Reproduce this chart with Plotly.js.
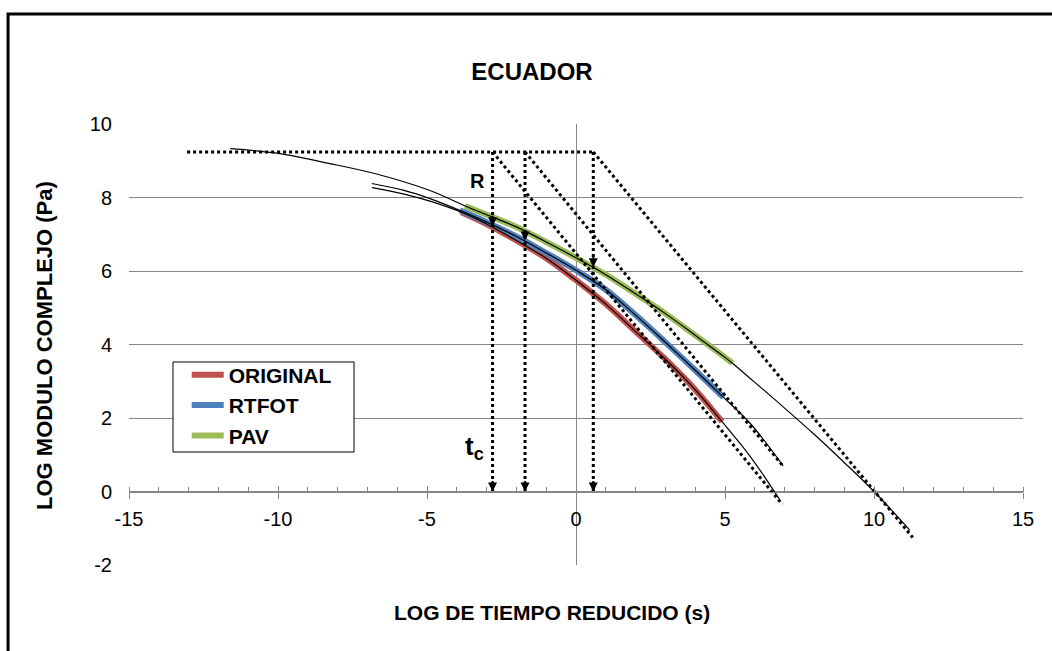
<!DOCTYPE html>
<html>
<head>
<meta charset="utf-8">
<script src="https://cdn.plot.ly/plotly-3.0.1.min.js"></script>
<style>
  html, body { margin: 0; padding: 0; background: #fff; }
  #chart { width: 1052px; height: 651px; }
</style>
</head>
<body>
<div id="chart"></div>
<script>
// Curvas maestras del ligante: log del tiempo reducido (s) vs log del módulo complejo (Pa)
const seriesNames = ['ORIGINAL', 'RTFOT', 'PAV'];
const seriesColors = ['#C0504D', '#4F81BD', '#9BBB59'];

// Datos medidos (tramo coloreado)
const logT_original = [-3.85, -3, -2, -1, 0, 1, 2, 3, 4, 4.9];
const logG_original = [7.6, 7.28, 6.83, 6.35, 5.75, 5.1, 4.35, 3.6, 2.77, 1.9];
const logT_rtfot = [-3.9, -3, -2, -1, 0, 1, 2, 3, 4, 4.95];
const logG_rtfot = [7.65, 7.33, 6.94, 6.49, 6.02, 5.49, 4.8, 4.06, 3.3, 2.56];
const logT_pav = [-3.72, -3, -2, -1, 0, 1, 2, 3, 4, 5, 5.25];
const logG_pav = [7.77, 7.53, 7.2, 6.79, 6.36, 5.9, 5.38, 4.84, 4.25, 3.65, 3.49];

// Modelo ajustado: prolongación antes y después de los datos
const fitHeadT_original = [-6.85, -5.8, -4.9, -3.85];
const fitHeadG_original = [8.27, 8.1, 7.9, 7.6];
const fitTailT_original = [4.9, 5.85, 6.85];
const fitTailG_original = [1.9, 0.95, -0.24];

const fitHeadT_rtfot = [-6.85, -5.8, -4.9, -3.9];
const fitHeadG_rtfot = [8.38, 8.2, 7.97, 7.65];
const fitTailT_rtfot = [4.95, 5.85, 6.95];
const fitTailG_rtfot = [2.56, 1.85, 0.7];

const fitHeadT_pav = [-11.6, -10, -8.3, -6.6, -4.9, -3.72];
const fitHeadG_pav = [9.33, 9.2, 8.93, 8.62, 8.19, 7.77];
const fitTailT_pav = [5.25, 6, 7, 8, 9, 10, 11.2];
const fitTailG_pav = [3.49, 2.97, 2.27, 1.55, 0.79, 0.0, -1.05];

// Construcción gráfica: módulo vítreo, tiempo de cruce tc y asíntota viscosa
const logGlassy = 9.24;
const glassyStartT = -13.05;
const logTc = [-2.8, -1.71, 0.58];
const logGc = [7.22, 6.83, 6.1];
const asymEndT = [6.92, 6.98, 11.3];
const asymEndG = [-0.35, 0.66, -1.25];

// Ejes
const xTicks = [-15, -10, -5, 0, 5, 10, 15];
const xTickLabels = ['-15', '-10', '-5', '0', '5', '10', '15'];
const yTicks = [-2, 0, 2, 4, 6, 8, 10];
const yTickLabels = ['-2', '0', '2', '4', '6', '8', '10'];

const FONT = 'Liberation Sans, Arial, Helvetica, sans-serif';
const GRID = '#868686';

const measured = [
  [logT_original, logG_original],
  [logT_rtfot, logG_rtfot],
  [logT_pav, logG_pav]
];
const fitted = [
  [fitHeadT_original, fitHeadG_original, fitTailT_original, fitTailG_original],
  [fitHeadT_rtfot, fitHeadG_rtfot, fitTailT_rtfot, fitTailG_rtfot],
  [fitHeadT_pav, fitHeadG_pav, fitTailT_pav, fitTailG_pav]
];

const traces = [];

// Tramos medidos, gruesos y de color
measured.forEach(([t, g], i) => {
  traces.push({
    type: 'scatter', mode: 'lines', name: seriesNames[i],
    x: t, y: g,
    line: { color: seriesColors[i], width: 6, shape: 'spline' },
    hoverinfo: 'skip'
  });
});

// Curva del modelo: línea negra fina que recorre cabeza + datos + cola
fitted.forEach(([ht, hg, tt, tg], i) => {
  const [t, g] = measured[i];
  traces.push({
    type: 'scatter', mode: 'lines', showlegend: false,
    x: ht.concat(t.slice(1), tt.slice(1)),
    y: hg.concat(g.slice(1), tg.slice(1)),
    line: { color: '#000', width: 1.2, shape: 'spline' },
    hoverinfo: 'skip'
  });
});

// Líneas de construcción punteadas: módulo vítreo, verticales en tc y asíntotas viscosas
const dx = [glassyStartT, Math.max(...logTc), null];
const dy = [logGlassy, logGlassy, null];
logTc.forEach((tc, i) => {
  dx.push(tc, tc, null, tc, asymEndT[i], null);
  dy.push(logGlassy, 0, null, logGlassy, asymEndG[i], null);
});
traces.push({
  type: 'scatter', mode: 'lines', showlegend: false,
  x: dx, y: dy,
  line: { color: '#000', width: 3, dash: '3px,3px' },
  hoverinfo: 'skip'
});

// Eje auxiliar para que las marcas principales crucen la línea del eje
traces.push({
  type: 'scatter', mode: 'markers', showlegend: false, xaxis: 'x2', yaxis: 'y',
  x: [0], y: [0], marker: { opacity: 0 }, hoverinfo: 'skip'
});

// Puntas de flecha en el corte con la curva y sobre el eje
const annotations = [];
logTc.forEach((tc, i) => {
  [logGc[i], 0].forEach(yv => {
    annotations.push({
      x: tc, y: yv, xref: 'x', yref: 'y', text: '',
      showarrow: true, ax: 0, ay: -12, arrowhead: 2,
      arrowsize: 0.9, arrowwidth: 2, arrowcolor: '#000'
    });
  });
});

annotations.push(
  { x: -3.3, y: 8.46, xref: 'x', yref: 'y', text: 'R', showarrow: false,
    font: { family: FONT, size: 20, color: '#000', weight: 'bold' } },
  { x: -3.4, y: 1.2, xref: 'x', yref: 'y', text: 't<sub>c</sub>', showarrow: false,
    font: { family: FONT, size: 26, color: '#000', weight: 'bold' } },
  { x: -0.094, y: 0.4989, xref: 'paper', yref: 'paper', text: 'LOG MODULO COMPLEJO (Pa)',
    textangle: -90, showarrow: false, xanchor: 'center', yanchor: 'middle',
    font: { family: FONT, size: 22, color: '#000', weight: 'bold' } },
  { x: 0.473, y: -0.1066, xref: 'paper', yref: 'paper', text: 'LOG DE TIEMPO REDUCIDO (s)',
    showarrow: false, xanchor: 'center', yanchor: 'middle',
    font: { family: FONT, size: 21, color: '#000', weight: 'bold' } }
);

const xBase = {
  range: [xTicks[0], xTicks[xTicks.length - 1]],
  tickvals: xTicks,
  anchor: 'free',
  position: (0 - yTicks[0]) / (yTicks[yTicks.length - 1] - yTicks[0]),
  showgrid: false,
  fixedrange: true
};

const layout = {
  width: 1052,
  height: 651,
  margin: { l: 129, r: 29, t: 124, b: 86 },
  paper_bgcolor: '#fff',
  plot_bgcolor: '#fff',
  font: { family: FONT, color: '#000' },
  title: {
    text: 'ECUADOR',
    x: 0.5057, y: 0.8894, xanchor: 'center', yanchor: 'middle',
    font: { family: FONT, size: 24, color: '#000', weight: 'bold' }
  },
  xaxis: Object.assign({}, xBase, {
    ticktext: xTickLabels,
    showline: true, linecolor: GRID, linewidth: 1,
    ticks: 'outside', ticklen: 6, tickwidth: 1, tickcolor: GRID,
    minor: { dtick: 1, tick0: 0, ticks: 'inside', ticklen: 5, tickwidth: 1, tickcolor: GRID },
    zeroline: true, zerolinecolor: GRID, zerolinewidth: 1,
    tickfont: { family: FONT, size: 20, color: '#000' },
    ticklabelstandoff: 3
  }),
  xaxis2: Object.assign({}, xBase, {
    overlaying: 'x',
    showline: false, zeroline: false,
    ticks: 'inside', ticklen: 6, tickwidth: 1, tickcolor: GRID,
    showticklabels: false
  }),
  yaxis: {
    range: [yTicks[0], yTicks[yTicks.length - 1]],
    tickvals: yTicks,
    ticktext: yTickLabels,
    showgrid: true, gridcolor: GRID, gridwidth: 1,
    zeroline: false, showline: false, ticks: '',
    tickfont: { family: FONT, size: 20, color: '#000' },
    ticklabelstandoff: 16,
    fixedrange: true
  },
  legend: {
    x: 0.05, y: 0.477, xanchor: 'left', yanchor: 'top',
    bgcolor: 'rgba(0,0,0,0)', borderwidth: 0,
    font: { family: FONT, size: 21, color: '#000', weight: 'bold' },
    indentation: 13, itemwidth: 32, tracegroupgap: 0
  },
  shapes: [
    // marco exterior del gráfico
    {
      type: 'rect', xref: 'paper', yref: 'paper',
      x0: -0.1353, x1: 1.2, y0: -0.5, y1: 1.2494,
      line: { color: '#000', width: 3 }, fillcolor: 'rgba(0,0,0,0)'
    },
    // recuadro de la leyenda
    {
      type: 'rect', xref: 'paper', yref: 'paper', layer: 'above',
      x0: 0.0492, x1: 0.2517, y0: 0.2562, y1: 0.4603,
      line: { color: '#000', width: 1 }, fillcolor: '#fff'
    }
  ],
  annotations: annotations,
  showlegend: true
};

Plotly.newPlot('chart', traces, layout, { staticPlot: true, displayModeBar: false });
</script>
</body>
</html>
